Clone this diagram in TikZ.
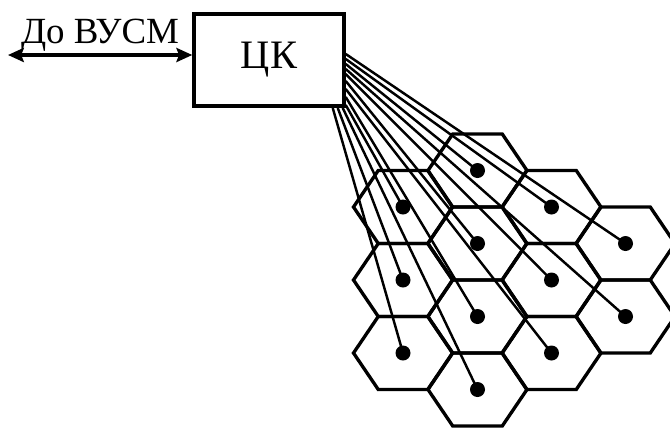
\documentclass[tikz,border=0pt]{standalone}
\usepackage{fontspec}
\setmainfont{Liberation Serif}
\usetikzlibrary{arrows.meta, calc}

% one flattened hexagonal cell, drawn round its centre
\tikzset{
  cell/.pic={
    \draw[celledge] (-49.5,0) -- (-24.75,36.5) -- (24.75,36.5) -- (49.5,0)
      -- (24.75,-36.5) -- (-24.75,-36.5) -- cycle;
  }
}

\begin{document}
\begin{tikzpicture}[x=0.02cm, y=-0.02cm,
  celledge/.style={line width=1.9pt, line join=miter},
  link/.style={line width=1.4pt},
  duplex/.style={line width=2pt, {Stealth[length=9pt,width=8pt,inset=1.5pt]}-{Stealth[length=9pt,width=8pt,inset=1.5pt]}},
  station/.style={circle, fill, inner sep=0pt, minimum size=0.3cm},
  ckbox/.style={draw, line width=2pt, minimum width=3.0cm, minimum height=1.85cm, inner sep=0pt, font=\fontsize{23}{26}\selectfont}
]
  \useasboundingbox (0,0) rectangle (670,427);

  % control centre and the link to the switching centre
  \node[ckbox] (ck) at (269,60) {ЦК};
  \node[anchor=base, font=\fontsize{21}{24}\selectfont] (vusm) at (100,43) {До ВУСМ};
  \coordinate (far) at (8,55);
  \draw[duplex] (far) -- ($(ck.west)+(0,-5)$);

  % cells, column by column
  \pic at (403,207) {cell};
  \pic at (403,280) {cell};
  \pic at (403,353) {cell};
  \pic at (477.5,170.5) {cell};
  \pic at (477.5,243.5) {cell};
  \pic at (477.5,316.5) {cell};
  \pic at (477.5,389.5) {cell};
  \pic at (551.5,207) {cell};
  \pic at (551.5,280) {cell};
  \pic at (551.5,353) {cell};
  \pic at (625.5,243.5) {cell};
  \pic at (625.5,316.5) {cell};

  % base stations
  \node[station] (c11) at (403,207) {};
  \node[station] (c12) at (403,280) {};
  \node[station] (c13) at (403,353) {};
  \node[station] (c21) at (477.5,170.5) {};
  \node[station] (c22) at (477.5,243.5) {};
  \node[station] (c23) at (477.5,316.5) {};
  \node[station] (c24) at (477.5,389.5) {};
  \node[station] (c31) at (551.5,207) {};
  \node[station] (c32) at (551.5,280) {};
  \node[station] (c33) at (551.5,353) {};
  \node[station] (c41) at (625.5,243.5) {};
  \node[station] (c42) at (625.5,316.5) {};

  % a separate line from the centre to every station
  \draw[link] ($(ck.south east)+(0,-54)$) -- (c41.center);
  \draw[link] ($(ck.south east)+(0,-49)$) -- (c31.center);
  \draw[link] ($(ck.south east)+(0,-44)$) -- (c21.center);
  \draw[link] ($(ck.south east)+(0,-39)$) -- (c42.center);
  \draw[link] ($(ck.south east)+(0,-34)$) -- (c32.center);
  \draw[link] ($(ck.south east)+(0,-27)$) -- (c22.center);
  \draw[link] ($(ck.south east)+(0,-19)$) -- (c33.center);
  \draw[link] ($(ck.south east)+(0,-11)$) -- (c23.center);
  \draw[link] ($(ck.south east)+(0,-3)$) -- (c11.center);
  \draw[link] ($(ck.south east)+(-3,0)$) -- (c24.center);
  \draw[link] ($(ck.south east)+(-8,0)$) -- (c12.center);
  \draw[link] ($(ck.south east)+(-13,0)$) -- (c13.center);
\end{tikzpicture}
\end{document}
